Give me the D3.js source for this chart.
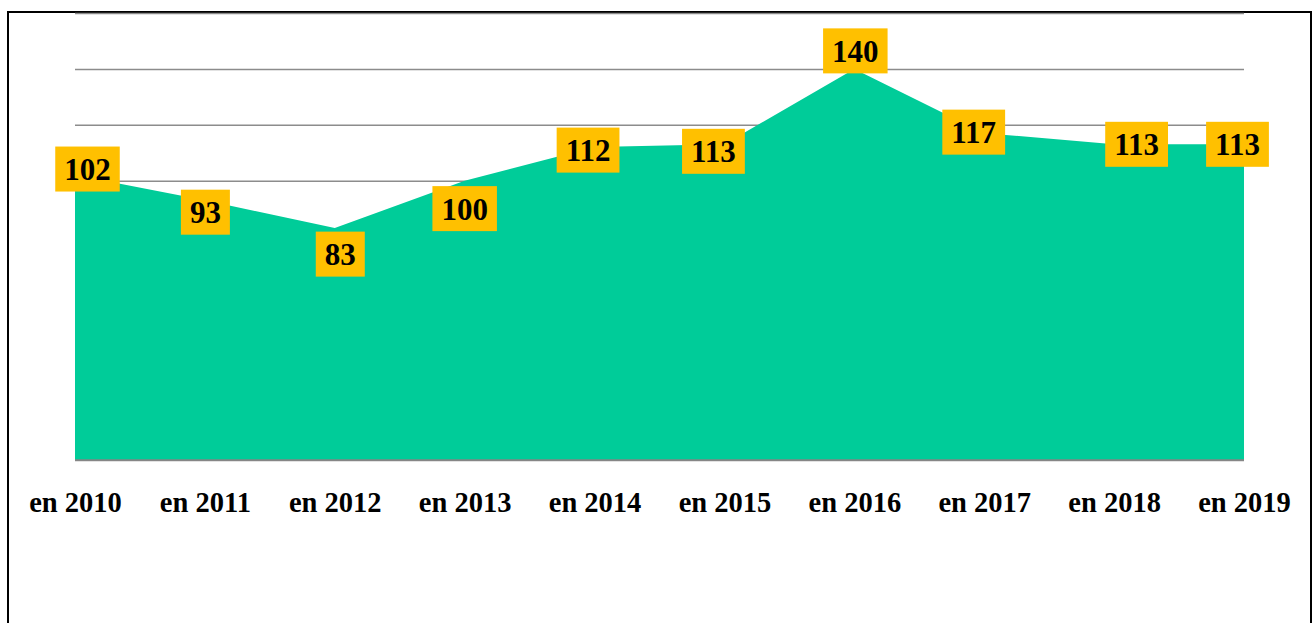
<!DOCTYPE html>
<html>
<head>
<meta charset="utf-8">
<script src="https://cdn.jsdelivr.net/npm/d3@7"></script>
<style>
  body { margin: 0; background: #fff; }
  svg { display: block; }
</style>
</head>
<body>
<div id="chart"></div>
<script>
// data
const years = ["en 2010","en 2011","en 2012","en 2013","en 2014","en 2015","en 2016","en 2017","en 2018","en 2019"];
const values = [102, 93, 83, 100, 112, 113, 140, 117, 113, 113];
const gridTicks = [0, 20, 40, 60, 80, 100, 120, 140, 160];

// where each label box sits relative to its point (dx, dy in px)
const labelNudge = [[12.5,-6],[0.5,12],[5.5,26],[0,28],[-6.5,3],[-11,7],[1,-18],[-10.5,-1],[22.5,0],[-6.5,0]];

const W = 1313, H = 623;
const plotL = 75, plotR = 1244, plotT = 13, plotB = 460;

const svg = d3.select("#chart").append("svg")
    .attr("width", W)
    .attr("height", H);

// frame
svg.append("rect")
    .attr("x", 8).attr("y", 12)
    .attr("width", 1303).attr("height", 660)
    .attr("fill", "none")
    .attr("stroke", "#000")
    .attr("stroke-width", 2);

const x = d3.scalePoint()
    .domain(years)
    .range([plotL, plotR]);
const y = d3.scaleLinear()
    .domain([0, 160])
    .range([plotB, plotT]);

// grid lines
svg.append("g")
    .attr("transform", `translate(${plotL},0)`)
    .call(d3.axisLeft(y).tickValues(gridTicks).tickSize(-(plotR - plotL)).tickFormat(""))
    .call(g => g.select(".domain").remove())
    .call(g => g.selectAll("line").attr("stroke", "#8c8c8c").attr("stroke-width", 1.5));

const data = years.map((k, i) => ({year: k, value: values[i], nudge: labelNudge[i]}));

const area = d3.area()
    .x(d => x(d.year))
    .y0(y(0))
    .y1(d => y(d.value));

svg.append("path")
    .datum(data)
    .attr("d", area)
    .attr("fill", "#00cc99");

// baseline
svg.append("line")
    .attr("x1", plotL).attr("x2", plotR)
    .attr("y1", y(0)).attr("y2", y(0))
    .attr("stroke", "#858585")
    .attr("stroke-width", 1.5);

// x axis labels
svg.append("g")
    .attr("transform", `translate(0,${plotB})`)
    .call(d3.axisBottom(x).tickSize(0))
    .call(g => g.select(".domain").remove())
    .call(g => g.selectAll("text")
        .attr("y", 52).attr("dy", 0)
        .attr("fill", "#000")
        .attr("font-family", "'Liberation Serif', 'Times New Roman', serif")
        .attr("font-weight", "bold")
        .attr("font-size", 28.5));

// value labels
const fs = 31;
const lab = svg.selectAll(".lab")
    .data(data)
    .enter()
    .append("g")
    .attr("class", "lab")
    .attr("transform", d => `translate(${x(d.year) + d.nudge[0]},${y(d.value) + d.nudge[1]})`);

lab.append("text")
    .attr("text-anchor", "middle")
    .attr("dy", "0.36em")
    .attr("font-family", "'Liberation Serif', 'Times New Roman', serif")
    .attr("font-weight", "bold")
    .attr("font-size", fs)
    .attr("fill", "#000")
    .text(d => d.value);

lab.insert("rect", "text")
    .each(function() {
      const t = d3.select(this.parentNode).select("text").node().getBBox();
      d3.select(this)
        .attr("x", -t.width / 2 - 9)
        .attr("y", -22.5)
        .attr("width", t.width + 18)
        .attr("height", 45);
    })
    .attr("fill", "#ffc000");
</script>
</body>
</html>
